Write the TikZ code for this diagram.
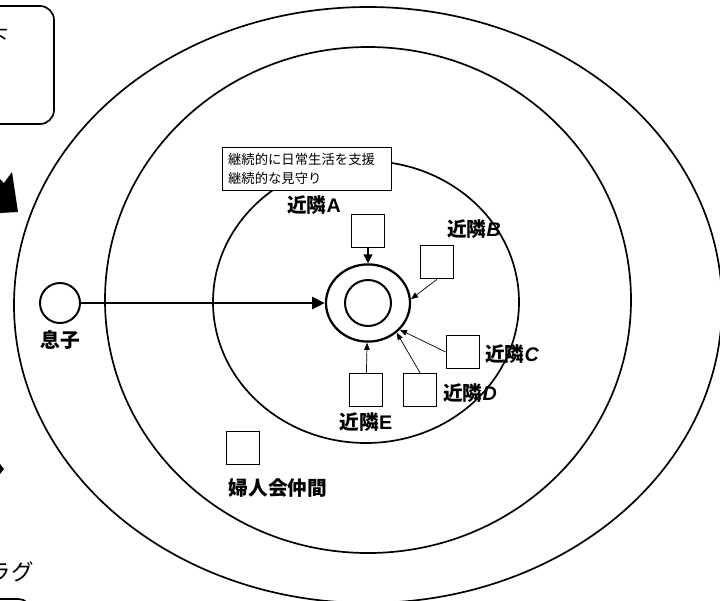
\documentclass[tikz,border=0pt]{standalone}
\usepackage{fontspec}
\setmainfont{Noto Sans CJK JP}
\newfontfamily\lat{Liberation Sans}
\usetikzlibrary{arrows.meta,shapes.geometric}
\tikzset{
  ring/.style={line width=1.2pt},
  sq/.style={draw,line width=1pt,minimum size=0.83cm,inner sep=0pt},
  lbl/.style={font=\bfseries\fontsize{14}{16}\selectfont,inner sep=1pt},
  big/.style={line width=1.8pt,-{Triangle[length=3.2mm,width=3mm]}},
  mid/.style={line width=1pt,-{Triangle[length=2.2mm,width=2.2mm]}},
  thin/.style={line width=0.5pt,-{Triangle[length=1.8mm,width=1.4mm]}}
}
\newcommand{\kinrin}[1]{近隣{\lat\bfseries #1}}

\begin{document}
\begin{tikzpicture}[x=0.025cm,y=-0.025cm]
\useasboundingbox (0,0) rectangle (720,600);
\clip (0,0) rectangle (720,600);
% circles of support
\draw[ring] (368,305) ellipse (354 and 298);
\draw[ring] (368,300) ellipse (263 and 253);
\draw[ring] (366,302) ellipse (153 and 141);
\node[draw,fill=white,line width=0.6pt,anchor=north west,text width=3.95cm,inner xsep=4pt,
  minimum height=1.075cm,align=left,font=\fontsize{9.5}{13}\selectfont] (note) at (222,147)
  {継続的に日常生活を支援\\継続的な見守り};
% centre
\node[ellipse,draw,line width=1.6pt,minimum width=2.1cm,minimum height=1.93cm] (ctr) at (368,303) {};
\node[circle,draw,line width=1.4pt,minimum size=1.15cm] (self) at (368,303) {};
\node[circle,draw,line width=1.4pt,minimum size=1cm] (son) at (60,303) {};
\node[lbl] (sonl) at (60,340) {息子};
\node[sq] (a) at (368,231) {}; \node[lbl] (al) at (314,205) {\kinrin{A}};
\node[sq] (b) at (437,262) {}; \node[lbl] (bl) at (474,229) {\kinrin{\itshape B}};
\node[sq] (c) at (463,352) {}; \node[lbl] (cl) at (512,354) {\kinrin{\itshape C}};
\node[sq] (d) at (420,390) {}; \node[lbl] (dl) at (470,393) {\kinrin{\itshape D}};
\node[sq] (e) at (366,390) {}; \node[lbl] (el) at (366,422) {\kinrin{E}};
\node[sq] (f) at (243,448) {}; \node[lbl] (fl) at (278,488) {婦人会仲間};
\draw[big] (son) -- (ctr);
\draw[mid] (a) -- (ctr);
\draw[thin] (b.south) -- (ctr.5);
\draw[thin] (c.west) -- (ctr.-40);
\draw[thin] (d.north) -- (ctr.-46);
\draw[thin] (e) -- (ctr);
% pieces cut off at the left edge
\draw[line width=1.2pt,rounded corners=10pt] (-80,6) rectangle (54,124);
\node[anchor=east,font=\fontsize{15}{17}\selectfont,inner sep=0pt] (top) at (9,38) {下};
\fill (0,179) -- (4,183) -- (12,172) -- (18,212) -- (0,213) -- cycle;
\fill (0,464) -- (4,469) -- (0,474) -- cycle;
\node[anchor=east,font=\fontsize{16}{18}\selectfont,inner sep=0pt] (tag) at (34,572) {ラグ};
\draw[line width=1.2pt,rounded corners=8pt] (-80,599) rectangle (30,680);
\end{tikzpicture}
\end{document}
